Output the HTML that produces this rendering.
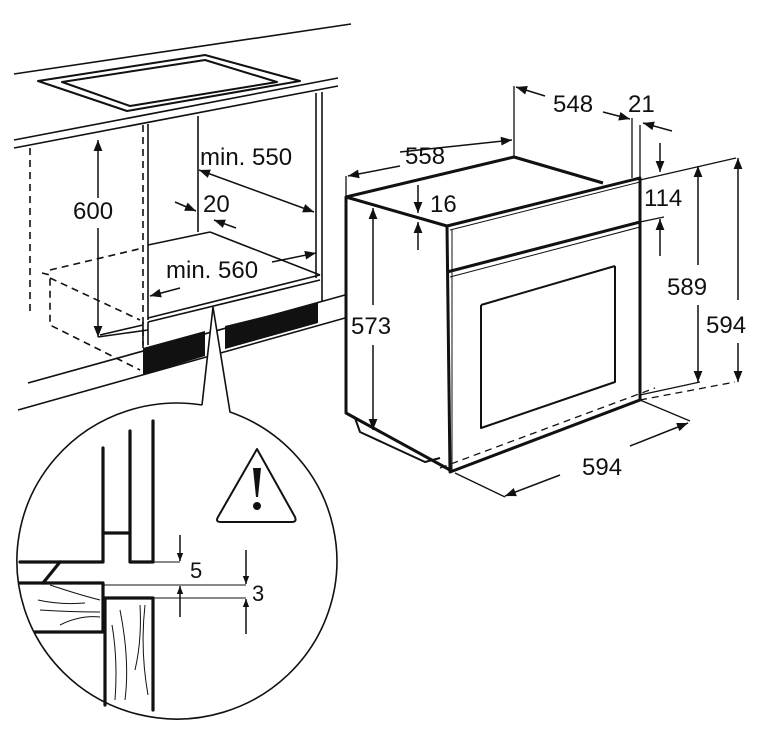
<!DOCTYPE html>
<html><head><meta charset="utf-8"><style>
html,body{margin:0;padding:0;background:#fff;}
svg{display:block;}
text{font-family:"Liberation Sans",Arial,sans-serif;font-size:24px;fill:#111;}
</style></head><body>
<svg width="765" height="735" viewBox="0 0 765 735" xmlns="http://www.w3.org/2000/svg">
<defs>
<marker id="a" viewBox="0 0 10 10" refX="10" refY="5" markerWidth="12" markerHeight="11" orient="auto-start-reverse" markerUnits="userSpaceOnUse"><path d="M0,1 L10,5 L0,9 z" fill="#111"/></marker>
<marker id="s" viewBox="0 0 10 10" refX="10" refY="5" markerWidth="8" markerHeight="8" orient="auto-start-reverse" markerUnits="userSpaceOnUse"><path d="M0,1 L10,5 L0,9 z" fill="#111"/></marker>
</defs>
<g fill="none" stroke="#111" stroke-width="1.6" stroke-linejoin="round">
<line x1="14" y1="74" x2="351" y2="24"/>
<line x1="14" y1="140" x2="338" y2="78"/>
<line x1="14" y1="148" x2="338" y2="86"/>
<polygon points="38,81 205,55 300,81 127,111" stroke-width="2"/>
<polygon points="62,82 205,60 277,82 130,106" stroke-width="2"/>
<line x1="30" y1="148" x2="30" y2="313" stroke-dasharray="7,5"/>
<line x1="143" y1="125" x2="143" y2="345" stroke-dasharray="7,5"/>
<line x1="148" y1="124" x2="148" y2="320"/>
<line x1="198" y1="116" x2="198" y2="232"/>
<line x1="316" y1="93" x2="316" y2="278"/>
<line x1="322" y1="92" x2="322" y2="302"/>
<line x1="148" y1="245" x2="210" y2="232"/>
<line x1="210" y1="232" x2="320" y2="275"/>
<line x1="148" y1="318" x2="320" y2="275"/>
<line x1="148" y1="322" x2="320" y2="280"/>
<line x1="143" y1="322" x2="143" y2="348"/>
<line x1="148" y1="322" x2="148" y2="345"/>
<polyline points="50,270 143,248" stroke-dasharray="7,5"/>
<polyline points="42,273 50,275 50,325 140,370" stroke-dasharray="7,5"/>
<polyline points="50,278 140,320" stroke-dasharray="7,5"/>
<line x1="100" y1="335" x2="143" y2="325"/>
<line x1="28" y1="383" x2="345" y2="295"/>
<line x1="18" y1="410" x2="345" y2="318"/>
</g>
<polygon points="143,348 205,331 205,356 143,375" fill="#111"/>
<polygon points="225,326 318,303 318,323 225,349" fill="#111"/>
<g fill="none" stroke="#111" stroke-width="1.5">
<line x1="98" y1="140" x2="98" y2="198" marker-start="url(#a)"/>
<line x1="98" y1="228" x2="98" y2="337" marker-end="url(#a)"/>
<line x1="98" y1="337" x2="148" y2="330"/>
<line x1="199" y1="170" x2="314" y2="212" marker-start="url(#a)" marker-end="url(#a)"/>
<line x1="175" y1="202" x2="196" y2="211" marker-end="url(#a)"/>
<line x1="236" y1="228" x2="214" y2="220" marker-end="url(#a)"/>
<line x1="180" y1="288" x2="150" y2="296" marker-end="url(#a)"/>
<line x1="272" y1="262" x2="316" y2="253" marker-end="url(#a)"/>
</g>
<text x="200" y="165">min. 550</text>
<text x="203" y="212">20</text>
<text x="166" y="278">min. 560</text>
<text x="73" y="219">600</text>
<path d="M202,405 L213,307 L230,412 A160,158 0 1 1 202,405" fill="#fff" stroke="#111" stroke-width="1.6"/>
<g fill="none" stroke="#111" stroke-width="3.2" stroke-linecap="round" stroke-linejoin="round">
<polyline points="20,562 103,562 103,448"/>
<line x1="103" y1="533" x2="130" y2="533"/>
<polyline points="130,431 130,562 153,562 153,421"/>
<polyline points="20,583 103,583 103,632 35,632"/>
<line x1="43" y1="583" x2="60" y2="562"/>
<polyline points="105,705 105,598 153,598 153,710"/>
</g>
<g fill="none" stroke="#111" stroke-width="1">
<line x1="153" y1="562" x2="180" y2="562"/>
<line x1="103" y1="585" x2="246" y2="585"/>
<line x1="153" y1="598" x2="246" y2="598"/>
<path d="M50,585 Q80,595 100,600 M38,600 Q60,605 85,603 M40,610 Q70,612 100,612 M60,625 Q80,615 100,617 M115,700 Q118,660 112,625 M125,700 Q130,660 120,610 M135,670 Q142,640 140,605 M148,695 Q140,650 145,605"/>
</g>
<g stroke="#111" stroke-width="1.5">
<line x1="180" y1="535" x2="180" y2="561" marker-end="url(#s)"/>
<line x1="180" y1="617" x2="180" y2="586" marker-end="url(#s)"/>
<line x1="246" y1="550" x2="246" y2="584" marker-end="url(#s)"/>
<line x1="246" y1="634" x2="246" y2="599" marker-end="url(#s)"/>
</g>
<text x="190" y="578" style="font-size:22px">5</text>
<text x="252" y="601" style="font-size:22px">3</text>
<path d="M257,449 L295,517 Q297,522 292,522 L221,522 Q215,522 218,517 Z" fill="#fff" stroke="#111" stroke-width="2" stroke-linejoin="round"/>
<path d="M253,468 L261,468 L258,497 L256,497 Z" fill="#111"/>
<circle cx="257" cy="506" r="4" fill="#111"/>
<g fill="none" stroke="#111" stroke-width="3" stroke-linejoin="round">
<polyline points="447,226 346,197 346,413 450,470"/>
<polyline points="346,197 514,157 603,183"/>
<polygon points="447,226 640,178 640,400 450,472"/>
<line x1="447" y1="272" x2="640" y2="222"/>
<line x1="481" y1="305" x2="615" y2="266" stroke-width="2"/>
<polyline points="481,305 481,428 615,382 615,266" stroke-width="2"/>
<polyline points="355,418 360,432 425,462 440,458" stroke-width="2"/>
</g>
<g fill="none" stroke="#111" stroke-width="1">
<line x1="450" y1="230" x2="640" y2="182"/>
<line x1="450" y1="277" x2="640" y2="227"/>
<line x1="452" y1="230" x2="452" y2="470"/>
</g>
<g fill="none" stroke="#111" stroke-width="1.3">
<line x1="514" y1="86" x2="514" y2="157"/>
<line x1="632" y1="118" x2="632" y2="178"/>
<line x1="640" y1="125" x2="640" y2="178"/>
<line x1="346" y1="176" x2="346" y2="196"/>
<line x1="640" y1="180" x2="736" y2="158"/>
<line x1="640" y1="222" x2="664" y2="217"/>
<line x1="640" y1="395" x2="700" y2="382"/>
<line x1="420" y1="218" x2="447" y2="226"/>
<line x1="640" y1="400" x2="690" y2="421"/>
<line x1="455" y1="473" x2="505" y2="497"/>
<line x1="640" y1="400" x2="735" y2="382" stroke-dasharray="7,5"/>
<line x1="440" y1="468" x2="655" y2="388" stroke-dasharray="7,5"/>
</g>
<g stroke="#111" stroke-width="1.5" fill="none">
<line x1="545" y1="96" x2="516" y2="87" marker-end="url(#a)"/>
<line x1="603" y1="112" x2="630" y2="119" marker-end="url(#a)"/>
<line x1="672" y1="131" x2="643" y2="123" marker-end="url(#a)"/>
<line x1="400" y1="152" x2="512" y2="140" marker-end="url(#a)"/>
<line x1="400" y1="166" x2="348" y2="176" marker-end="url(#a)"/>
<line x1="418" y1="185" x2="418" y2="213" marker-end="url(#a)"/>
<line x1="418" y1="250" x2="418" y2="222" marker-end="url(#a)"/>
<line x1="660" y1="143" x2="660" y2="172" marker-end="url(#a)"/>
<line x1="660" y1="256" x2="660" y2="219" marker-end="url(#a)"/>
<line x1="698" y1="265" x2="698" y2="166" marker-end="url(#a)"/>
<line x1="698" y1="305" x2="698" y2="382" marker-end="url(#a)"/>
<line x1="738" y1="300" x2="738" y2="158" marker-end="url(#a)"/>
<line x1="738" y1="343" x2="738" y2="382" marker-end="url(#a)"/>
<line x1="373" y1="305" x2="373" y2="208" marker-end="url(#a)"/>
<line x1="373" y1="345" x2="373" y2="430" marker-end="url(#a)"/>
<line x1="560" y1="475" x2="505" y2="496" marker-end="url(#a)"/>
<line x1="630" y1="446" x2="688" y2="423" marker-end="url(#a)"/>
</g>
<text x="553" y="112">548</text>
<text x="628" y="112">21</text>
<text x="405" y="164">558</text>
<text x="430" y="212">16</text>
<text x="644" y="206">114</text>
<text x="667" y="295">589</text>
<text x="706" y="333">594</text>
<text x="351" y="334">573</text>
<text x="582" y="475">594</text>
</svg>
</body></html>
